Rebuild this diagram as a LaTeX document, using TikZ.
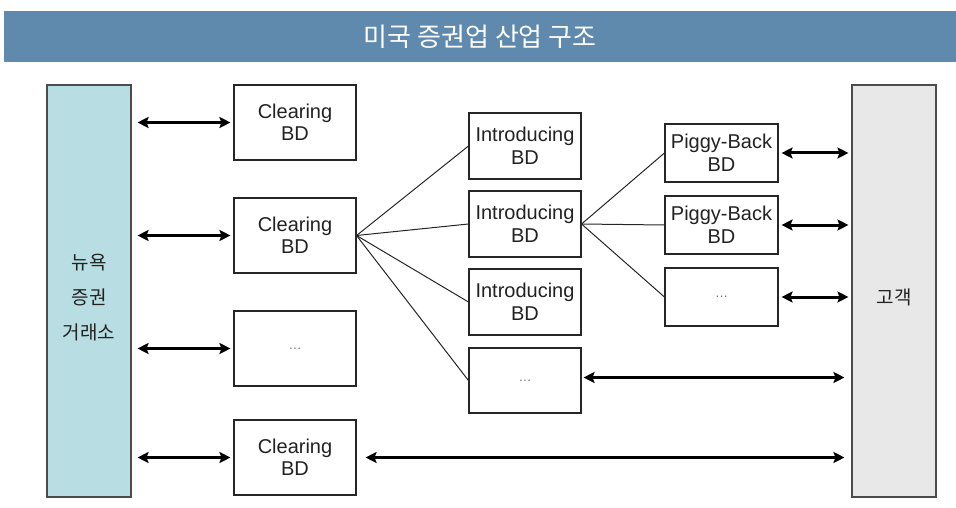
\documentclass[tikz,border=0pt]{standalone}
\usepackage{fontspec}
\setmainfont{Liberation Sans}
\newfontfamily\kr{Noto Sans CJK KR}
\usetikzlibrary{arrows.meta}
\definecolor{band}{HTML}{5F8AAE}
\definecolor{nyfill}{HTML}{B8DDE3}
\definecolor{cufill}{HTML}{E8E8E8}
\definecolor{txt}{HTML}{222222}
\tikzset{
  bd/.style={draw=black!85, line width=1.1pt, fill=white, text=txt, align=center,
    font=\fontsize{20}{22.5}\selectfont, inner sep=0pt},
  clr/.style={bd, minimum width=122pt, minimum height=75pt},
  intro/.style={bd, minimum width=112pt, minimum height=66pt},
  piggy/.style={bd, minimum width=113pt, minimum height=58pt},
  tall/.style={draw=black!70, line width=1.1pt, minimum width=84pt, minimum height=412pt, inner sep=0pt},
  dots/.style={text=black!55, font=\fontsize{13}{13}\selectfont},
  link/.style={line width=1pt, draw=black!85},
  dbl/.style={line width=3pt, {Stealth[length=11pt,width=11pt,inset=2pt]}-{Stealth[length=11pt,width=11pt,inset=2pt]}},
  ktext/.style={text=txt, font=\kr\fontsize{19}{35}\selectfont, align=center}
}
\begin{document}
\begin{tikzpicture}[x=1pt,y=-1pt]
\useasboundingbox (0,0) rectangle (956,508);
% header
\node[fill=band, minimum width=952pt, minimum height=51pt, inner sep=0pt, anchor=north west,
  text=white, font=\kr\fontsize{26}{26}\selectfont] (title) at (4,11) {미국 증권업 산업 구조};
% side boxes
\node[tall, fill=nyfill] (nyse) at (89,291) {};
\node[ktext] (nyset) at (89,298) {뉴욕\\증권\\거래소};
\node[tall, fill=cufill, label={[ktext, yshift=-6pt]center:고객}] (cust) at (894,291) {};
% clearing
\node[clr] (c1) at (295,122.5) {Clearing\\BD};
\node[clr] (c2) at (295,235.5) {Clearing\\BD};
\node[clr] (c3) at (295,348.5) {};
\node[dots] (c3d) at (c3) {…};
\node[clr] (c4) at (295,457.5) {Clearing\\BD};
% introducing
\node[intro] (i1) at (525,146) {Introducing\\BD};
\node[intro] (i2) at (525,224) {Introducing\\BD};
\node[intro] (i3) at (525,302) {Introducing\\BD};
\node[intro, minimum height=65pt] (i4) at (525,380.5) {};
\node[dots] (i4d) at (i4) {…};
% piggy-back
\node[piggy] (p1) at (721.5,153) {Piggy-Back\\BD};
\node[piggy] (p2) at (721.5,225) {Piggy-Back\\BD};
\node[piggy] (p3) at (721.5,297) {};
\node[dots] (p3d) at (p3) {…};
% links
\foreach \t in {i1,i2,i3,i4} \draw[link] (c2.east) -- (\t.west);
\foreach \t in {p1,p2,p3} \draw[link] (i2.east) -- (\t.west);
% arrows left
\foreach \b in {c1,c2,c3,c4}
  \draw[dbl] ([xshift=6pt]nyse.east |- \b.west) -- ([xshift=-3pt]\b.west);
% arrows right
\draw[dbl] ([xshift=3pt]p1.east) -- ([xshift=-3pt]cust.west |- p1.east);
\draw[dbl] ([xshift=3pt]p2.east) -- ([xshift=-3pt]cust.west |- p2.east);
\draw[dbl] ([xshift=3pt]p3.east) -- ([xshift=-3pt]cust.west |- p3.east);
\draw[dbl] ([xshift=2pt,yshift=3pt]i4.east) -- ([xshift=-7pt,yshift=3pt]cust.west |- i4.east);
\draw[dbl] ([xshift=9pt]c4.east) -- ([xshift=-7pt]cust.west |- c4.east);
\end{tikzpicture}
\end{document}
